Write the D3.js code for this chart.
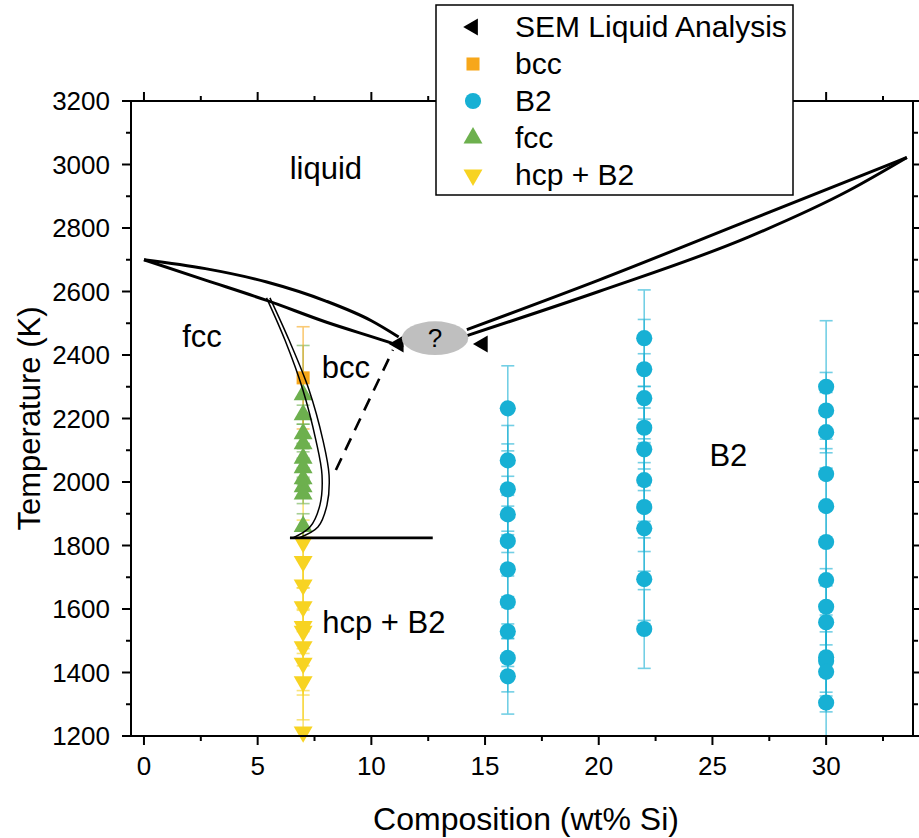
<!DOCTYPE html>
<html>
<head>
<meta charset="utf-8">
<script src="https://cdn.jsdelivr.net/npm/d3@7"></script>
<style>
  body { margin: 0; background: #fff; }
  text { font-family: "Liberation Sans", Arial, sans-serif; fill: #000; }
</style>
</head>
<body>
<div id="vis"></div>
<script>
// frame constants
const FRAME_WIDTH = 919;
const FRAME_HEIGHT = 838;
const PLOT = {left: 131, right: 913, top: 101, bottom: 736};

// tick values
const X_TICKS = [0, 5, 10, 15, 20, 25, 30];
const X_MINOR = [2.5, 7.5, 12.5, 17.5, 22.5, 27.5, 32.5];
const Y_TICKS = [1200, 1400, 1600, 1800, 2000, 2200, 2400, 2600, 2800, 3000, 3200];
const Y_MINOR = [1300, 1500, 1700, 1900, 2100, 2300, 2500, 2700, 2900, 3100];

// measured points (temperature K, error K)
const B2_16_T = [2232, 2068, 1977, 1898, 1814, 1725, 1622, 1529, 1446, 1388];
const B2_16_ERR = [134, 110, 143, 120, 110, 120, 115, 110, 107, 119];
const B2_22_T = [2453, 2355, 2264, 2171, 2103, 2006, 1921, 1854, 1694, 1537];
const B2_22_ERR = [152, 157, 140, 130, 130, 130, 140, 135, 130, 124];
const B2_30_T = [2300, 2225, 2157, 2025, 1924, 1811, 1691, 1607, 1558, 1448, 1436, 1402, 1305];
const B2_30_ERR = [208, 120, 125, 110, 120, 115, 110, 120, 115, 110, 110, 126, 130];
const FCC_T = [2275, 2212, 2152, 2120, 2075, 2045, 2010, 1985, 1962, 1860];
const FCC_ERR = [155, 30, 30, 25, 30, 30, 30, 25, 30, 40];
const HCP_T = [1810, 1750, 1676, 1607, 1545, 1530, 1481, 1429, 1371, 1213];
const HCP_ERR = [144, 130, 80, 60, 70, 70, 60, 100, 120, 130];
const BCC_T = [2328];
const BCC_ERR = [161];
const SEM_X = [11.2, 14.9];
const SEM_T = [2435, 2435];

// phase boundaries [wt% Si, K]
const LIQ_LEFT = [[0, 2700], [2.7, 2672], [5.4, 2630], [8.0, 2570], [10.0, 2508], [11.2, 2457]];
const SOL_LEFT = [[0, 2700], [2.7, 2636], [5.4, 2572], [8.0, 2504], [10.7, 2442], [11.4, 2425]];
const LIQ_RIGHT = [[14.2, 2480], [20.0, 2636], [26.6, 2824], [33.55, 3022]];
const SOL_RIGHT = [[14.2, 2461], [20.0, 2600], [26.6, 2772], [31.0, 2918], [33.55, 3022]];
const FB_INNER = [[5.39, 2580], [6.2, 2447], [6.99, 2290], [7.56, 2132], [7.83, 2022], [7.74, 1928], [7.3, 1858], [6.55, 1824]];
const FB_OUTER = [[5.54, 2580], [6.38, 2447], [7.26, 2290], [7.87, 2132], [8.14, 2022], [8.05, 1928], [7.65, 1858], [6.82, 1824]];
const DASHED = [[8.44, 2038], [10.95, 2416]];
const EUTECTOID = [[6.42, 1824], [12.7, 1824]];

// region labels
const LABELS = [
  {text: "liquid", x: 8.0, t: 2989},
  {text: "fcc", x: 2.55, t: 2460},
  {text: "bcc", x: 8.88, t: 2362},
  {text: "hcp + B2", x: 10.55, t: 1559},
  {text: "B2", x: 25.7, t: 2085}
];

const LEGEND_NAMES = ["SEM Liquid Analysis", "bcc", "B2", "fcc", "hcp + B2"];

const COLORS = {sem: "#000000", bcc: "#F7A71A", b2: "#17B0D4", fcc: "#6DB04E", hcp: "#F7D322"};

const FRAME = d3.select("#vis")
  .append("svg")
    .attr("width", FRAME_WIDTH)
    .attr("height", FRAME_HEIGHT);

FRAME.append("rect").attr("width", FRAME_WIDTH).attr("height", FRAME_HEIGHT).attr("fill", "#fff");

const X_SCALE = d3.scaleLinear().domain([-0.57, 33.82]).range([PLOT.left, PLOT.right]);
const Y_SCALE = d3.scaleLinear().domain([1200, 3200]).range([PLOT.bottom, PLOT.top]);

// marker shapes
const SYMBOLS = {
  sem: {type: d3.symbolTriangle, size: 125, rot: -90},
  bcc: {type: d3.symbolSquare, size: 170, rot: 0},
  b2: {type: d3.symbolCircle, size: 205, rot: 0},
  fcc: {type: d3.symbolTriangle, size: 155, rot: 0},
  hcp: {type: d3.symbolTriangle, size: 155, rot: 180}
};

function symbolPath(key) {
  return d3.symbol().type(SYMBOLS[key].type).size(SYMBOLS[key].size)();
}

// build series
function series(key, x, temps, errs) {
  return temps.map((t, i) => ({key: key, x: x, t: t, err: errs[i]}));
}

const POINTS = [].concat(
  series("b2", 16, B2_16_T, B2_16_ERR),
  series("b2", 22, B2_22_T, B2_22_ERR),
  series("b2", 30, B2_30_T, B2_30_ERR),
  series("hcp", 7, HCP_T, HCP_ERR),
  series("fcc", 7, FCC_T, FCC_ERR),
  series("bcc", 7, BCC_T, BCC_ERR)
);

const plotArea = FRAME.append("g");

plotArea.append("clipPath").attr("id", "clip")
  .append("rect")
    .attr("x", PLOT.left).attr("y", PLOT.top)
    .attr("width", PLOT.right - PLOT.left).attr("height", PLOT.bottom - PLOT.top);

// error bars
const errG = plotArea.append("g").attr("clip-path", "url(#clip)");
POINTS.forEach((d) => {
  const cx = X_SCALE(d.x);
  const y0 = Y_SCALE(d.t - d.err), y1 = Y_SCALE(d.t + d.err);
  const g = errG.append("g").attr("stroke", COLORS[d.key]).attr("stroke-width", 1.6).attr("opacity", 0.6);
  g.append("line").attr("x1", cx).attr("x2", cx).attr("y1", y0).attr("y2", y1);
  g.append("line").attr("x1", cx - 6.5).attr("x2", cx + 6.5).attr("y1", y0).attr("y2", y0);
  g.append("line").attr("x1", cx - 6.5).attr("x2", cx + 6.5).attr("y1", y1).attr("y2", y1);
});

// markers
plotArea.append("g").selectAll("path")
  .data(POINTS)
  .enter()
  .append("path")
    .attr("d", (d) => symbolPath(d.key))
    .attr("transform", (d) => "translate(" + X_SCALE(d.x) + "," + Y_SCALE(d.t) + ") rotate(" + SYMBOLS[d.key].rot + ")")
    .attr("fill", (d) => COLORS[d.key]);

// SEM liquid analysis
plotArea.append("g").selectAll("path")
  .data(SEM_X.map((x, i) => ({x: x, t: SEM_T[i]})))
  .enter()
  .append("path")
    .attr("d", symbolPath("sem"))
    .attr("transform", (d) => "translate(" + X_SCALE(d.x) + "," + Y_SCALE(d.t) + ") rotate(-90)")
    .attr("fill", "#000");

// phase boundaries
const curve = d3.line()
  .x((d) => X_SCALE(d[0]))
  .y((d) => Y_SCALE(d[1]))
  .curve(d3.curveMonotoneX);

const curveFree = d3.line()
  .x((d) => X_SCALE(d[0]))
  .y((d) => Y_SCALE(d[1]))
  .curve(d3.curveCatmullRom);

[LIQ_LEFT, SOL_LEFT, LIQ_RIGHT, SOL_RIGHT].forEach((pts) => {
  plotArea.append("path").attr("d", curve(pts))
    .attr("fill", "none").attr("stroke", "#000").attr("stroke-width", 3);
});
[FB_INNER, FB_OUTER].forEach((pts) => {
  plotArea.append("path").attr("d", curveFree(pts))
    .attr("fill", "none").attr("stroke", "#000").attr("stroke-width", 1.5);
});
plotArea.append("path").attr("d", curve(DASHED))
  .attr("fill", "none").attr("stroke", "#000").attr("stroke-width", 2.6)
  .attr("stroke-dasharray", "13,9");
plotArea.append("path").attr("d", curve(EUTECTOID))
  .attr("fill", "none").attr("stroke", "#000").attr("stroke-width", 2.6);

// unknown region
plotArea.append("ellipse")
  .attr("cx", X_SCALE(12.8)).attr("cy", Y_SCALE(2453))
  .attr("rx", X_SCALE(12.8 + 1.46) - X_SCALE(12.8))
  .attr("ry", Y_SCALE(2453) - Y_SCALE(2453 + 53))
  .attr("fill", "#BFBFBF");
plotArea.append("text")
  .attr("x", X_SCALE(12.8)).attr("y", Y_SCALE(2453) + 9)
  .attr("text-anchor", "middle").attr("font-size", "26px").text("?");

// region labels
plotArea.append("g").selectAll("text")
  .data(LABELS)
  .enter()
  .append("text")
    .attr("x", (d) => X_SCALE(d.x))
    .attr("y", (d) => Y_SCALE(d.t) + 11)
    .attr("text-anchor", "middle")
    .attr("font-size", "31px")
    .text((d) => d.text);

// axes
const axisG = FRAME.append("g");
axisG.append("rect")
  .attr("x", PLOT.left).attr("y", PLOT.top)
  .attr("width", PLOT.right - PLOT.left).attr("height", PLOT.bottom - PLOT.top)
  .attr("fill", "none").attr("stroke", "#000").attr("stroke-width", 2);

function ticks(vals, len, horizontal) {
  vals.forEach((v) => {
    if (horizontal) {
      const x = X_SCALE(v);
      axisG.append("line").attr("x1", x).attr("x2", x).attr("y1", PLOT.bottom).attr("y2", PLOT.bottom + len)
        .attr("stroke", "#000").attr("stroke-width", 2);
      axisG.append("line").attr("x1", x).attr("x2", x).attr("y1", PLOT.top).attr("y2", PLOT.top - len)
        .attr("stroke", "#000").attr("stroke-width", 2);
    } else {
      const y = Y_SCALE(v);
      axisG.append("line").attr("x1", PLOT.left).attr("x2", PLOT.left - len).attr("y1", y).attr("y2", y)
        .attr("stroke", "#000").attr("stroke-width", 2);
      axisG.append("line").attr("x1", PLOT.right).attr("x2", PLOT.right + len).attr("y1", y).attr("y2", y)
        .attr("stroke", "#000").attr("stroke-width", 2);
    }
  });
}
ticks(X_TICKS, 9, true);
ticks(X_MINOR, 5, true);
ticks(Y_TICKS, 9, false);
ticks(Y_MINOR, 5, false);

axisG.selectAll(".xlab")
  .data(X_TICKS)
  .enter()
  .append("text")
    .attr("x", (d) => X_SCALE(d))
    .attr("y", PLOT.bottom + 39)
    .attr("text-anchor", "middle")
    .attr("font-size", "26px")
    .text((d) => d);

axisG.selectAll(".ylab")
  .data(Y_TICKS)
  .enter()
  .append("text")
    .attr("x", PLOT.left - 21)
    .attr("y", (d) => Y_SCALE(d) + 9)
    .attr("text-anchor", "end")
    .attr("font-size", "26px")
    .text((d) => d);

axisG.append("text")
  .attr("x", 526)
  .attr("y", 830)
  .attr("text-anchor", "middle")
  .attr("font-size", "32px")
  .text("Composition (wt% Si)");

axisG.append("text")
  .attr("transform", "translate(40," + ((PLOT.top + PLOT.bottom) / 2) + ") rotate(-90)")
  .attr("text-anchor", "middle")
  .attr("font-size", "31px")
  .text("Temperature (K)");

// legend
const LEGEND_KEYS = ["sem", "bcc", "b2", "fcc", "hcp"];
const legend = FRAME.append("g");
legend.append("rect")
  .attr("x", 436).attr("y", 5).attr("width", 357).attr("height", 190)
  .attr("fill", "#fff").attr("stroke", "#000").attr("stroke-width", 1.5);

const LEGEND_Y = d3.scalePoint().domain(LEGEND_KEYS).range([27, 175]);
LEGEND_KEYS.forEach((k, i) => {
  const y = LEGEND_Y(k);
  legend.append("path")
    .attr("d", symbolPath(k))
    .attr("transform", "translate(473," + y + ") rotate(" + SYMBOLS[k].rot + ")")
    .attr("fill", COLORS[k]);
  legend.append("text")
    .attr("x", 515).attr("y", y + 10)
    .attr("font-size", "30px")
    .text(LEGEND_NAMES[i]);
});
</script>
</body>
</html>
